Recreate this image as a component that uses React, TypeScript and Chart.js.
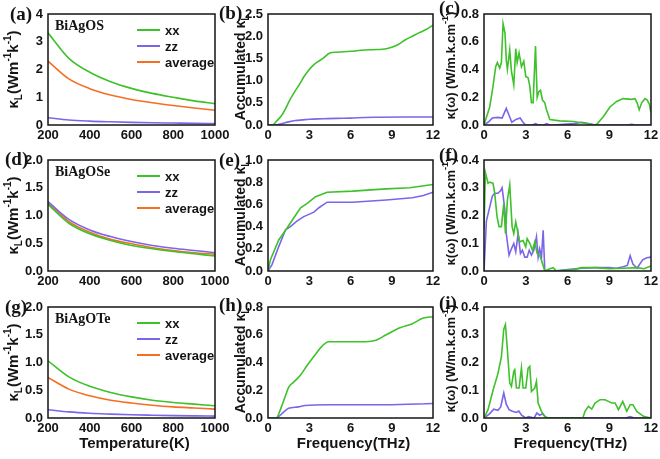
import React, { useEffect, useRef } from "react";
import { Chart, registerables } from "chart.js";

Chart.register(...registerables);

const SANS = "'Liberation Sans', Arial, Helvetica, sans-serif";
const SERIF = "'Liberation Serif', 'Times New Roman', serif";
const GREEN = "#3ec12b";
const PURPLE = "#7b66ea";
const ORANGE = "#f46f22";
const INK = "#141414";

// ---------- tick labels ----------
const temperatureTicks = [200, 400, 600, 800, 1000];
const frequencyTicks = [0, 3, 6, 9, 12];
const aYTicks = [0, 1, 2, 3, 4];
const bYTicks = [0, 0.5, 1.0, 1.5, 2.0, 2.5];
const cYTicks = [0, 0.2, 0.4, 0.6, 0.8];
const dYTicks = [0, 0.5, 1.0, 1.5, 2.0];
const eYTicks = [0, 0.2, 0.4, 0.6, 0.8, 1.0];
const fYTicks = [0, 0.1, 0.2, 0.3, 0.4];
const gYTicks = [0, 0.5, 1.0, 1.5, 2.0];
const hYTicks = [0, 0.2, 0.4, 0.6, 0.8];
const iYTicks = [0, 0.1, 0.2, 0.3, 0.4];

// ---------- series labels ----------
const seriesLabels = ["xx", "zz", "average"];
const materials = ["BiAgOS", "BiAgOSe", "BiAgOTe"];

// ---------- temperature dependence (K) ----------
const temperatureK = [200, 300, 400, 500, 600, 700, 800, 900, 1000];
const aXX = [3.32, 2.4, 1.9, 1.56, 1.32, 1.14, 1.0, 0.87, 0.77];
const aZZ = [0.26, 0.18, 0.14, 0.115, 0.095, 0.08, 0.07, 0.06, 0.055];
const aAvg = [2.3, 1.66, 1.31, 1.08, 0.92, 0.8, 0.7, 0.61, 0.53];

const dXX = [1.2, 0.86, 0.67, 0.55, 0.46, 0.4, 0.35, 0.31, 0.27];
const dZZ = [1.25, 0.93, 0.74, 0.62, 0.53, 0.46, 0.41, 0.37, 0.33];
const dAvg = [1.22, 0.89, 0.7, 0.57, 0.49, 0.42, 0.37, 0.33, 0.3];

const gXX = [1.03, 0.74, 0.57, 0.46, 0.38, 0.32, 0.28, 0.25, 0.22];
const gZZ = [0.15, 0.11, 0.085, 0.07, 0.058, 0.05, 0.043, 0.038, 0.034];
const gAvg = [0.73, 0.52, 0.4, 0.32, 0.27, 0.23, 0.2, 0.18, 0.16];

// ---------- accumulated kappa vs frequency (THz) ----------
const bFreqXX = [0, 0.3, 0.6, 1.0, 1.3, 1.6, 2.0, 2.3, 2.6, 3.0, 3.3, 3.6, 4.0, 4.5, 5.0, 6.0, 7.0, 8.0, 8.5, 9.0, 9.5, 10.0, 10.5, 11.0, 11.5, 12];
const bXX = [0, 0, 0.08, 0.22, 0.38, 0.57, 0.78, 0.92, 1.08, 1.25, 1.35, 1.42, 1.5, 1.62, 1.64, 1.66, 1.69, 1.7, 1.71, 1.75, 1.82, 1.92, 2.0, 2.08, 2.15, 2.25];
const bFreqZZ = [0, 0.5, 1.0, 1.5, 2.0, 2.5, 3.0, 4.0, 5.0, 6.0, 7.0, 8.0, 10.0, 12];
const bZZ = [0, 0, 0.03, 0.07, 0.1, 0.115, 0.13, 0.14, 0.15, 0.155, 0.17, 0.175, 0.18, 0.18];

const eFreqXX = [0, 0.17, 0.78, 1.4, 1.88, 2.37, 2.85, 3.46, 4.3, 6.15, 8.6, 10.3, 12];
const eXX = [0, 0.1, 0.28, 0.39, 0.48, 0.57, 0.61, 0.67, 0.71, 0.72, 0.74, 0.75, 0.78];
const eFreqZZ = [0, 0.3, 0.78, 1.27, 1.63, 2.1, 2.6, 3.34, 3.7, 4.3, 6.15, 8.6, 10.5, 11.3, 12];
const eZZ = [0, 0.06, 0.22, 0.37, 0.4, 0.45, 0.49, 0.53, 0.57, 0.62, 0.62, 0.64, 0.66, 0.68, 0.71];

const hFreqXX = [0, 0.6, 0.9, 1.27, 1.5, 1.88, 2.37, 2.85, 3.46, 3.95, 4.4, 6.15, 7.1, 7.85, 8.6, 9.6, 10.5, 11.3, 12];
const hXX = [0, 0, 0.06, 0.16, 0.22, 0.26, 0.31, 0.38, 0.46, 0.52, 0.55, 0.55, 0.55, 0.56, 0.6, 0.65, 0.68, 0.72, 0.73];
const hFreqZZ = [0, 0.6, 1.0, 1.5, 2.2, 2.7, 4.4, 8.6, 12];
const hZZ = [0, 0, 0.03, 0.07, 0.08, 0.09, 0.095, 0.095, 0.105];

// ---------- spectral kappa(omega) vs frequency (THz) ----------
const cFreqXX = [0, 0.41, 0.65, 0.84, 0.96, 1.13, 1.25, 1.37, 1.51, 1.6, 1.68, 1.85, 1.97, 2.14, 2.28, 2.38, 2.52, 2.69, 2.86, 3.0, 3.17, 3.29, 3.41, 3.53, 3.7, 3.82, 3.94, 4.06, 4.2, 4.37, 4.49, 4.73, 5.45, 6.4, 7.13, 7.6, 7.85, 8.1, 8.57, 9.05, 9.53, 10.0, 10.6, 10.85, 11.0, 11.15, 11.33, 11.57, 11.73, 11.88, 12];
const cXX = [0, 0.13, 0.28, 0.42, 0.45, 0.41, 0.45, 0.73, 0.66, 0.47, 0.4, 0.54, 0.39, 0.29, 0.55, 0.45, 0.52, 0.42, 0.46, 0.35, 0.34, 0.28, 0.16, 0.16, 0.57, 0.2, 0.24, 0.25, 0.18, 0.16, 0.11, 0.04, 0.03, 0.025, 0.015, 0.007, 0, 0.005, 0.06, 0.13, 0.17, 0.19, 0.185, 0.19, 0.16, 0.11, 0.16, 0.19, 0.18, 0.15, 0.09];
const cFreqZZ = [0, 0.3, 0.6, 1.0, 1.3, 1.6, 1.8, 2.0, 2.3, 2.6, 2.8, 3.0, 3.5, 3.7, 3.9, 4.3, 4.5, 4.7, 5.0, 6.5, 7.0, 7.5, 8.0, 10.3, 10.6, 10.9, 12];
const cZZ = [0, 0.02, 0.05, 0.055, 0.05, 0.12, 0.07, 0.02, 0.04, 0.05, 0.02, 0, 0, 0.01, 0, 0, 0.01, 0, 0, 0.01, 0.02, 0.01, 0, 0, 0.005, 0, 0];

const fFreqXX = [0, 0.1, 0.29, 0.41, 0.65, 0.77, 0.94, 1.08, 1.25, 1.42, 1.54, 1.68, 1.85, 2.02, 2.14, 2.28, 2.45, 2.57, 2.81, 3.0, 3.1, 3.29, 3.48, 3.65, 3.82, 4.0, 4.13, 4.37, 4.73, 4.97, 5.2, 6.5, 7.0, 8.0, 9.0, 10.0, 11.0, 11.5, 12];
const fXX = [0.15, 0.355, 0.316, 0.32, 0.316, 0.28, 0.195, 0.16, 0.16, 0.243, 0.135, 0.255, 0.31, 0.16, 0.135, 0.177, 0.135, 0.105, 0.11, 0.087, 0.117, 0.1, 0.075, 0.105, 0.063, 0.057, 0.039, 0, 0.008, 0.012, 0, 0.005, 0.012, 0.012, 0.008, 0.01, 0.012, 0.008, 0.018];
const fFreqZZ = [0, 0.17, 0.41, 0.6, 0.77, 1.0, 1.2, 1.3, 1.49, 1.6, 1.8, 1.97, 2.14, 2.28, 2.45, 2.62, 2.76, 2.93, 3.1, 3.25, 3.41, 3.58, 3.77, 3.89, 4.0, 4.13, 4.25, 4.37, 5.0, 6.0, 7.0, 8.0, 9.0, 9.5, 10.0, 10.3, 10.5, 10.7, 11.0, 11.4, 11.7, 12];
const fZZ = [0, 0.18, 0.23, 0.27, 0.28, 0.28, 0.29, 0.3, 0.225, 0.135, 0.057, 0.08, 0.099, 0.069, 0.135, 0.063, 0.075, 0.05, 0.05, 0.075, 0.057, 0.075, 0.123, 0.05, 0.08, 0.05, 0.147, 0, 0, 0.005, 0.01, 0.012, 0.012, 0.01, 0.015, 0.02, 0.055, 0.025, 0.01, 0.04, 0.048, 0.05];

const iFreqXX = [0, 0.29, 0.65, 1.0, 1.25, 1.42, 1.54, 1.68, 1.85, 1.97, 2.14, 2.21, 2.33, 2.52, 2.69, 2.81, 3.0, 3.17, 3.29, 3.41, 3.65, 3.77, 3.89, 4.13, 4.37, 4.6, 7.1, 7.26, 7.5, 7.74, 7.98, 8.34, 8.7, 8.94, 9.18, 9.42, 9.66, 9.97, 10.26, 10.5, 10.7, 10.98, 11.46, 12];
const iXX = [0, 0.03, 0.1, 0.16, 0.22, 0.32, 0.337, 0.246, 0.126, 0.114, 0.168, 0.174, 0.108, 0.108, 0.18, 0.108, 0.108, 0.18, 0.186, 0.096, 0.108, 0.132, 0.054, 0.024, 0.006, 0, 0, 0.024, 0.042, 0.032, 0.054, 0.066, 0.066, 0.06, 0.054, 0.054, 0.03, 0.06, 0.024, 0.048, 0.048, 0.024, 0.006, 0];
const iFreqZZ = [0, 0.4, 0.7, 1.0, 1.2, 1.42, 1.6, 1.8, 2.0, 2.3, 2.5, 2.7, 3.0, 3.2, 3.6, 3.8, 4.0, 4.2, 4.5, 10.2, 10.5, 10.8, 12];
const iZZ = [0, 0.015, 0.032, 0.028, 0.04, 0.09, 0.05, 0.03, 0.025, 0.02, 0.025, 0.01, 0, 0.005, 0, 0.018, 0.01, 0.015, 0, 0, 0.005, 0, 0];

// ---------- panel description ----------
type Seg = { t: string; f: number; dy?: number };
type Series = { label: string; color: string; xs: number[]; ys: number[]; smooth: boolean };
type PanelCfg = {
  L: number; T: number; R: number; B: number;
  xTicks: number[]; yTicks: number[]; yDec: number;
  series: Series[];
  legend: boolean;
  material?: string;
  label: string; labelPos: [number, number];
  yTitle: Seg[]; yTitleBase: number; yTitleShift: number;
  xTitle?: string;
};

const titleK: Seg[] = [
  { t: "κ", f: 15 }, { t: "L", f: 10, dy: 4 }, { t: "(Wm", f: 15 },
  { t: "-1", f: 10, dy: -7 }, { t: "k", f: 15 }, { t: "-1", f: 10, dy: -7 }, { t: ")", f: 15 },
];
const titleAcc: Seg[] = [{ t: "Accumulated κ", f: 14 }, { t: "L", f: 10, dy: 4 }];
const titleSpec: Seg[] = [{ t: "κ(ω) (W/m.k.cm", f: 13 }, { t: "-1", f: 9, dy: -7 }, { t: ")", f: 13 }];

const tempSeries = (xx: number[], zz: number[], avg: number[]): Series[] => [
  { label: seriesLabels[0], color: GREEN, xs: temperatureK, ys: xx, smooth: true },
  { label: seriesLabels[1], color: PURPLE, xs: temperatureK, ys: zz, smooth: true },
  { label: seriesLabels[2], color: ORANGE, xs: temperatureK, ys: avg, smooth: true },
];
const freqSeries = (fx: number[], x: number[], fz: number[], z: number[], smooth: boolean): Series[] => [
  { label: seriesLabels[0], color: GREEN, xs: fx, ys: x, smooth },
  { label: seriesLabels[1], color: PURPLE, xs: fz, ys: z, smooth },
];

const COLS = [
  { L: 48, R: 215, base: 18, shift: 0 },
  { L: 268, R: 433, base: 245, shift: -2 },
  { L: 484, R: 651, base: 455, shift: -4 },
];
const ROWS = [
  { T: 14, B: 125 },
  { T: 160, B: 271 },
  { T: 307, B: 418 },
];

const col = (c: number) => ({ L: COLS[c].L, R: COLS[c].R, yTitleBase: COLS[c].base, yTitleShift: COLS[c].shift });

const panels: PanelCfg[] = [
  { ...col(0), ...ROWS[0], xTicks: temperatureTicks, yTicks: aYTicks, yDec: 0, series: tempSeries(aXX, aZZ, aAvg), legend: true, material: materials[0], label: "(a)", labelPos: [10, 15], yTitle: titleK },
  { ...col(1), ...ROWS[0], xTicks: frequencyTicks, yTicks: bYTicks, yDec: 1, series: freqSeries(bFreqXX, bXX, bFreqZZ, bZZ, true), legend: false, label: "(b)", labelPos: [219, 14], yTitle: titleAcc },
  { ...col(2), ...ROWS[0], xTicks: frequencyTicks, yTicks: cYTicks, yDec: 1, series: freqSeries(cFreqXX, cXX, cFreqZZ, cZZ, false), legend: false, label: "(c)", labelPos: [439, 9], yTitle: titleSpec },
  { ...col(0), ...ROWS[1], xTicks: temperatureTicks, yTicks: dYTicks, yDec: 1, series: tempSeries(dXX, dZZ, dAvg), legend: true, material: materials[1], label: "(d)", labelPos: [5, 160], yTitle: titleK },
  { ...col(1), ...ROWS[1], xTicks: frequencyTicks, yTicks: eYTicks, yDec: 1, series: freqSeries(eFreqXX, eXX, eFreqZZ, eZZ, false), legend: false, label: "(e)", labelPos: [219, 161], yTitle: titleAcc },
  { ...col(2), ...ROWS[1], xTicks: frequencyTicks, yTicks: fYTicks, yDec: 1, series: freqSeries(fFreqXX, fXX, fFreqZZ, fZZ, false), legend: false, label: "(f)", labelPos: [439, 156], yTitle: titleSpec },
  { ...col(0), ...ROWS[2], xTicks: temperatureTicks, yTicks: gYTicks, yDec: 1, series: tempSeries(gXX, gZZ, gAvg), legend: true, material: materials[2], label: "(g)", labelPos: [5, 308], yTitle: titleK, xTitle: "Temperature(K)" },
  { ...col(1), ...ROWS[2], xTicks: frequencyTicks, yTicks: hYTicks, yDec: 1, series: freqSeries(hFreqXX, hXX, hFreqZZ, hZZ, true), legend: false, label: "(h)", labelPos: [219, 306], yTitle: titleAcc, xTitle: "Frequency(THz)" },
  { ...col(2), ...ROWS[2], xTicks: frequencyTicks, yTicks: iYTicks, yDec: 1, series: freqSeries(iFreqXX, iXX, iFreqZZ, iZZ, false), legend: false, label: "(i)", labelPos: [439, 304], yTitle: titleSpec, xTitle: "Frequency(THz)" },
];

const Y_W = 50;
const TOP_PAD = 16;
const RIGHT_PAD = 30;
const X_TITLE_Y = 444;

function makeDecor(cfg: PanelCfg, ox: number, oy: number) {
  return {
    id: "decor",
    afterDraw(chart: any) {
      const ctx: CanvasRenderingContext2D = chart.ctx;
      const a = chart.chartArea;
      ctx.save();
      // frame
      ctx.strokeStyle = INK;
      ctx.lineWidth = 1.5;
      ctx.strokeRect(a.left, a.top, a.right - a.left, a.bottom - a.top);

      // legend
      if (cfg.legend) {
        chart.data.datasets.forEach((ds: any, i: number) => {
          const y = a.top + 16 + i * 16;
          ctx.strokeStyle = ds.borderColor;
          ctx.lineWidth = 2;
          ctx.beginPath();
          ctx.moveTo(a.left + 89, y);
          ctx.lineTo(a.left + 112, y);
          ctx.stroke();
          ctx.fillStyle = INK;
          ctx.font = `bold 13px ${SANS}`;
          ctx.textAlign = "left";
          ctx.textBaseline = "middle";
          ctx.fillText(ds.label, a.left + 117, y + 1);
        });
      }
      // material name
      if (cfg.material) {
        ctx.fillStyle = INK;
        ctx.font = `bold 14px ${SERIF}`;
        ctx.textAlign = "left";
        ctx.textBaseline = "middle";
        ctx.fillText(cfg.material, a.left + 7, a.top + 12);
      }
      // panel label
      ctx.fillStyle = INK;
      ctx.font = `bold 19px ${SERIF}`;
      ctx.textAlign = "left";
      ctx.textBaseline = "middle";
      ctx.fillText(cfg.label, cfg.labelPos[0] - ox, cfg.labelPos[1] - oy);

      // rotated y title
      ctx.save();
      const cy = (a.top + a.bottom) / 2 + cfg.yTitleShift;
      ctx.translate(cfg.yTitleBase - ox, cy);
      ctx.rotate(-Math.PI / 2);
      ctx.textBaseline = "alphabetic";
      ctx.textAlign = "left";
      let total = 0;
      const widths = cfg.yTitle.map((s) => {
        ctx.font = `bold ${s.f}px ${SANS}`;
        const w = ctx.measureText(s.t).width;
        total += w;
        return w;
      });
      let x = -total / 2;
      cfg.yTitle.forEach((s, i) => {
        ctx.font = `bold ${s.f}px ${SANS}`;
        ctx.fillText(s.t, x, s.dy || 0);
        x += widths[i];
      });
      ctx.restore();

      // x title
      if (cfg.xTitle) {
        ctx.fillStyle = INK;
        ctx.font = `bold 15px ${SANS}`;
        ctx.textAlign = "center";
        ctx.textBaseline = "middle";
        ctx.fillText(cfg.xTitle, (a.left + a.right) / 2 + 3, X_TITLE_Y - oy);
      }
      ctx.restore();
    },
  };
}

function Panel({ cfg }: { cfg: PanelCfg }) {
  const ref = useRef<HTMLCanvasElement>(null);
  const xH = cfg.xTitle ? 45 : 22;
  const left = cfg.L - Y_W;
  const top = cfg.T - TOP_PAD;
  const w = cfg.R - cfg.L + Y_W + RIGHT_PAD;
  const h = cfg.B - cfg.T + TOP_PAD + xH;

  useEffect(() => {
    const tickFont = { family: SANS, size: 13, weight: "bold" as const };
    const chart = new Chart(ref.current!, {
      type: "line",
      data: {
        datasets: cfg.series.map((s) => ({
          label: s.label,
          data: s.xs.map((x, i) => ({ x, y: s.ys[i] })),
          borderColor: s.color,
          backgroundColor: s.color,
          borderWidth: 1.6,
          pointRadius: 0,
          fill: false,
          cubicInterpolationMode: s.smooth ? ("monotone" as const) : ("default" as const),
          tension: 0,
        })),
      },
      options: {
        responsive: false,
        animation: false,
        devicePixelRatio: 1,
        layout: { padding: { left: 0, top: TOP_PAD, right: RIGHT_PAD, bottom: 0 } },
        plugins: { legend: { display: false }, tooltip: { enabled: false } },
        scales: {
          x: {
            type: "linear",
            min: cfg.xTicks[0],
            max: cfg.xTicks[cfg.xTicks.length - 1],
            grid: { display: false, drawTicks: false },
            border: { display: false },
            ticks: {
              font: tickFont,
              color: INK,
              padding: 3,
              maxRotation: 0,
              autoSkip: false,
              callback: (v: any) => String(v),
            },
            afterBuildTicks: (s: any) => { s.ticks = cfg.xTicks.map((v) => ({ value: v })); },
            afterFit: (s: any) => { s.height = xH; },
          },
          y: {
            type: "linear",
            min: cfg.yTicks[0],
            max: cfg.yTicks[cfg.yTicks.length - 1],
            grid: { display: false, drawTicks: false },
            border: { display: false },
            ticks: {
              font: tickFont,
              color: INK,
              padding: 5,
              autoSkip: false,
              callback: (v: any) => Number(v).toFixed(cfg.yDec),
            },
            afterBuildTicks: (s: any) => { s.ticks = cfg.yTicks.map((v) => ({ value: v })); },
            afterFit: (s: any) => { s.width = Y_W; },
          },
        },
      },
      plugins: [makeDecor(cfg, left, top)],
    });
    return () => chart.destroy();
  }, []);

  return (
    <canvas
      ref={ref}
      width={w}
      height={h}
      style={{ position: "absolute", left, top, width: w, height: h }}
    />
  );
}

export default function App() {
  return (
    <div
      style={{
        position: "fixed",
        left: 0,
        top: 0,
        width: 660,
        height: 459,
        overflow: "hidden",
        background: "#ffffff",
      }}
    >
      {panels.map((p, i) => (
        <Panel key={i} cfg={p} />
      ))}
    </div>
  );
}
